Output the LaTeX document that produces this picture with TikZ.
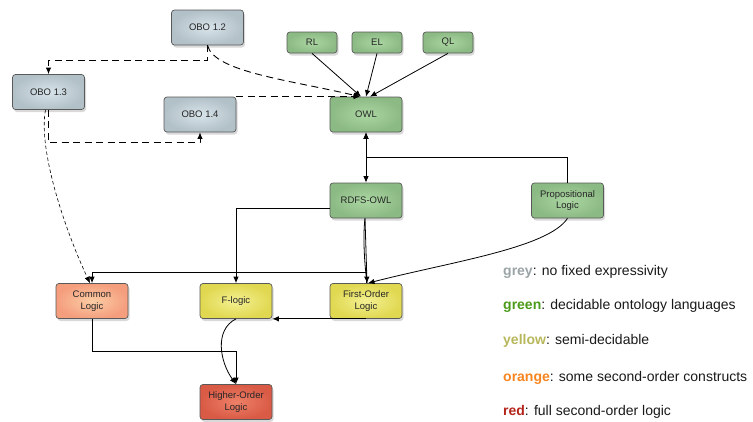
\documentclass[tikz,border=0pt]{standalone}
\usepackage{fontspec}
\setmainfont{Liberation Sans}
\usetikzlibrary{arrows.meta,shadows,calc}
\definecolor{greyIn}{HTML}{D8E4EA}
\definecolor{greyOut}{HTML}{B2C0C7}
\definecolor{greenIn}{HTML}{ABD6A2}
\definecolor{greenOut}{HTML}{8CBA84}
\definecolor{yellowIn}{HTML}{F4F092}
\definecolor{yellowOut}{HTML}{E0D850}
\definecolor{orangeIn}{HTML}{FBCDA4}
\definecolor{orangeOut}{HTML}{F59E7E}
\definecolor{redIn}{HTML}{EE8068}
\definecolor{redOut}{HTML}{D95A45}
\definecolor{legGrey}{HTML}{9AA3A6}
\definecolor{legGreen}{HTML}{4C9A1C}
\definecolor{legYellow}{HTML}{B7B75C}
\definecolor{legOrange}{HTML}{F7851F}
\definecolor{legRed}{HTML}{B5241A}
\begin{document}
\begin{tikzpicture}[x=1pt,y=-1pt,
  box/.style={draw=black!65, line width=0.7pt, rounded corners=3pt,
    minimum width=72pt, minimum height=35pt, align=center, inner sep=1pt,
    font=\fontsize{9.5}{11.5}\selectfont, text=black!85,
    drop shadow={shadow xshift=1.5pt, shadow yshift=-2.5pt, opacity=0.3}},
  smallbox/.style={box, minimum width=50pt, minimum height=21pt},
  greyfill/.style={inner color=greyIn, outer color=greyOut},
  greenfill/.style={inner color=greenIn, outer color=greenOut},
  yellowfill/.style={inner color=yellowIn, outer color=yellowOut},
  orangefill/.style={inner color=orangeIn, outer color=orangeOut},
  redfill/.style={inner color=redIn, outer color=redOut},
  conn/.style={line width=0.8pt, -{Latex[length=6.5pt,width=5.5pt]}},
  dconn/.style={conn, line width=0.9pt, dash pattern=on 7pt off 4.5pt},
  fconn/.style={conn, line width=0.6pt, dash pattern=on 3.5pt off 2.5pt},
  plain/.style={line width=0.8pt},
  legend/.style={anchor=west, font=\fontsize{14}{16}\selectfont, text=black!90, inner sep=0pt}
]
\useasboundingbox (0,0) rectangle (753,421);

% nodes
\node[box, greyfill] (obo12) at (207.5,27.5) {OBO 1.2};
\node[box, greyfill] (obo13) at (48.5,92) {OBO 1.3};
\node[box, greyfill] (obo14) at (200,114.5) {OBO 1.4};
\node[smallbox, greenfill] (rl) at (312,42.5) {RL};
\node[smallbox, greenfill] (el) at (377,42.5) {EL};
\node[smallbox, greenfill] (ql) at (448,42.5) {QL};
\node[box, greenfill] (owl) at (366,114.5) {OWL};
\node[box, greenfill] (rdfs) at (366,200.5) {RDFS-OWL};
\node[box, greenfill] (prop) at (567.5,200.5) {Propositional\\Logic};
\node[box, orangefill] (cl) at (92,301) {Common\\Logic};
\node[box, yellowfill] (fl) at (236,301) {F-logic};
\node[box, yellowfill] (fol) at (366,301) {First-Order\\Logic};
\node[box, redfill] (hol) at (236,402) {Higher-Order\\Logic};

% dashed connectors
\draw[dconn] (obo12.south) -- ++(0,15) -| (obo13.north);
\draw[dconn] (obo12.south) .. controls (214,72) and (290,80) .. ([xshift=-6pt]owl.north);
\draw[dconn] (obo14.north east) -- ([xshift=-6pt]owl.north);
\draw[dconn] (obo13.south) -- ++(0,33) -| (obo14.south);
\draw[fconn] ([xshift=-3pt]obo13.south) .. controls (38,150) and (65,230) .. ([xshift=-2pt]cl.north);

% solid connectors
\draw[conn] (rl.south) -- ([xshift=-5pt]owl.north);
\draw[conn] (el.south) -- (owl.north);
\draw[conn] (ql.south) -- ([xshift=4pt]owl.north);
\draw[conn, {Latex[length=6.5pt,width=5.5pt]}-{Latex[length=6.5pt,width=5.5pt]}] (owl.south) -- (rdfs.north);
\draw[conn] (prop.north) |- ($(owl.south)!0.5!(rdfs.north)$) -- (owl.south);
\draw[conn] ([yshift=-8pt]rdfs.west) -| (fl.north);
\draw[conn] ([xshift=-1pt]rdfs.south) -- ([xshift=1pt]fol.north);
\draw[plain] ([xshift=-1pt]rdfs.south) .. controls (363,235) and (364,260) .. ([xshift=1pt]fol.north);
\draw[conn] (fol.north) -- ++(0,-11) -| (cl.north);
\draw[conn] (prop.south) .. controls (548,248) and (450,262) .. ([xshift=2pt]fol.north);
\draw[conn] (fol.south) -- (fl.south east);
\draw[conn] (fl.south) .. controls (214,330) and (220,362) .. (hol.north);
\draw[conn] (cl.south) -- ++(0,33) -| (hol.north);

% legend
\node[legend] (lg1) at (503,272) {\textcolor{legGrey}{\textbf{grey}}: no fixed expressivity};
\node[legend] (lg2) at (503,306) {\textcolor{legGreen}{\textbf{green}}: decidable ontology languages};
\node[legend] (lg3) at (503,341) {\textcolor{legYellow}{\textbf{yellow}}: semi-decidable};
\node[legend] (lg4) at (503,378) {\textcolor{legOrange}{\textbf{orange}}: some second-order constructs};
\node[legend] (lg5) at (503,412) {\textcolor{legRed}{\textbf{red}}: full second-order logic};
\end{tikzpicture}
\end{document}
